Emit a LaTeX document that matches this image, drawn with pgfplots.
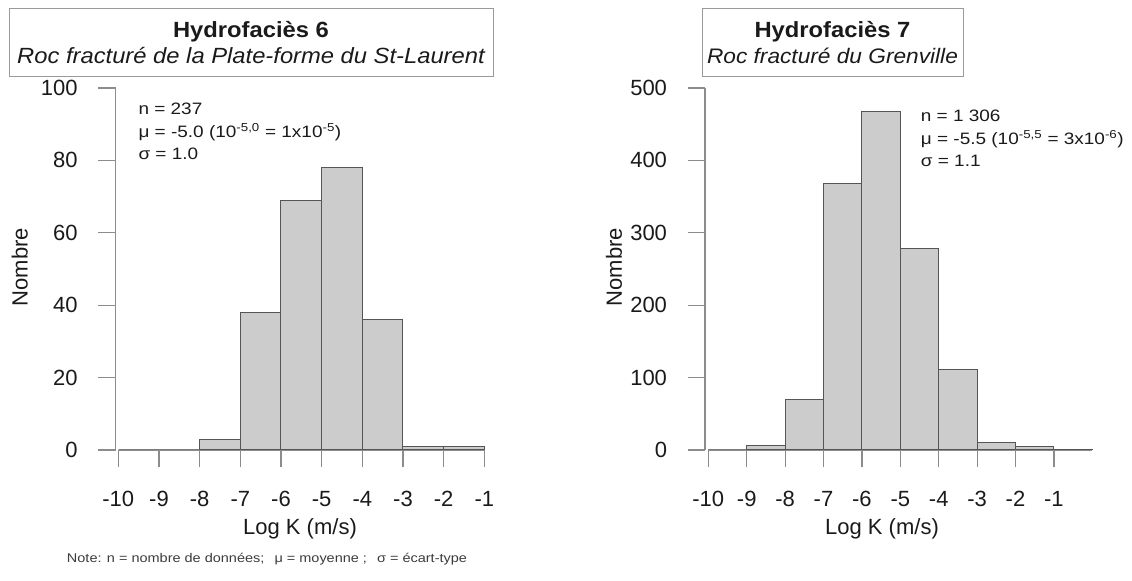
\documentclass[border=0pt]{standalone}
\usepackage{pgfplots}
\pgfplotsset{compat=1.18}
\usepackage{fontspec}
\setmainfont{Liberation Sans}
\newfontfamily\annfont[FakeStretch=1.15]{Liberation Sans}
\newfontfamily\ttlfont[FakeStretch=1.08]{Liberation Sans}
\definecolor{barfill}{HTML}{CCCCCC}
\definecolor{bardraw}{HTML}{555555}
\definecolor{axisgray}{HTML}{8C8C8C}
\definecolor{txt}{HTML}{1A1A1A}
\definecolor{boxgray}{HTML}{9A9A9A}

\pgfplotsset{
  hstyle/.style={
    scale only axis, height=362bp, ymin=0,
    axis lines=left,
    axis line style={-, axisgray, line width=1.2bp},
    x axis line style={shorten <=3bp},
    every tick/.style={axisgray, line width=1.2bp},
    tick align=outside, major tick length=17.5bp,
    tick label style={font=\fontsize{22bp}{26bp}\selectfont, text=txt},
    xticklabel style={yshift=-20bp},
    yticklabel style={xshift=-17bp},
    xtick={-10,-9,-8,-7,-6,-5,-4,-3,-2,-1},
    xticklabels={-10,-9,-8,-7,-6,-5,-4,-3,-2,-1},
    xlabel={Log K (m/s)}, ylabel={Nombre},
    label style={font=\fontsize{22bp}{26bp}\selectfont, text=txt},
    clip=false,
  }
}

\begin{document}
\begin{tikzpicture}[x=1bp,y=1bp]
\useasboundingbox (0,0) rectangle (1132,581);

% ---------- left panel ----------
\begin{axis}[hstyle,
  at={(115.7bp,131bp)}, anchor=south west,
  width=368.6bp, xmin=-10.064, xmax=-1, ymax=100,
  ytick={0,20,40,60,80,100}, yticklabels={0,20,40,60,80,100},
  xlabel style={at={(axis description cs:0.5,-0.218)}, anchor=center},
  ylabel style={at={(axis description cs:-0.26,0.505)}, anchor=center},
]
\addplot[ybar interval, fill=barfill, draw=bardraw, line width=1bp] coordinates {
(-10,0) (-9,0) (-8,3) (-7,38) (-6,69) (-5,78) (-4,36) (-3,1) (-2,1) (-1,0)};
\end{axis}

% ---------- right panel ----------
\begin{axis}[hstyle,
  at={(705bp,131bp)}, anchor=south west,
  width=387.3bp, xmin=-10.086, xmax=0, ymax=500,
  ytick={0,100,200,300,400,500}, yticklabels={0,100,200,300,400,500},
  xlabel style={at={(axis description cs:0.457,-0.218)}, anchor=center},
  ylabel style={at={(axis description cs:-0.235,0.505)}, anchor=center},
]
\addplot[ybar interval, fill=barfill, draw=bardraw, line width=1bp] coordinates {
(-10,0) (-9,6) (-8,70) (-7,368) (-6,468) (-5,278) (-4,111) (-3,11) (-2,5) (-1,1) (0,0)};
\end{axis}

% ---------- titles ----------
\draw[boxgray, line width=1bp] (9,504) rectangle (493,572);
\node[anchor=base, inner sep=0, text=txt] at (251,543.7) {\ttlfont\fontsize{22bp}{26bp}\selectfont\bfseries Hydrofaciès 6};
\node[anchor=base, inner sep=0, text=txt] at (251,517) {\ttlfont\fontsize{22bp}{26bp}\selectfont\itshape Roc fracturé de la Plate-forme du St-Laurent};

\draw[boxgray, line width=1bp] (702,504) rectangle (963,572);
\node[anchor=base, inner sep=0, text=txt] at (832.5,543.7) {\ttlfont\fontsize{22bp}{26bp}\selectfont\bfseries Hydrofaciès 7};
\node[anchor=base, inner sep=0, text=txt] at (832.5,517) {\ttlfont\fontsize{21bp}{26bp}\selectfont\itshape Roc fracturé du Grenville};

% ---------- annotations ----------
\begin{scope}[every node/.style={anchor=base west, inner sep=0, text=txt, font=\annfont\fontsize{16.5bp}{19bp}\selectfont}]
\node at (138.3,466.7) {n = 237};
\node at (138.3,443.3) {μ = -5.0 (10\textsuperscript{-5,0} = 1x10\textsuperscript{-5})};
\node at (138.3,421) {σ = 1.0};
\node at (920.7,459.3) {n = 1 306};
\node at (920.7,436.7) {μ = -5.5 (10\textsuperscript{-5,5} = 3x10\textsuperscript{-6})};
\node at (920.7,414.3) {σ = 1.1};
\end{scope}

% ---------- note ----------
\node[anchor=base, inner sep=0, text=txt!85] at (267,18) {\annfont\fontsize{12.6bp}{15bp}\selectfont Note: n = nombre de données;\hspace{0.8em}μ = moyenne ;\hspace{0.8em}σ = écart-type};
\end{tikzpicture}
\end{document}
